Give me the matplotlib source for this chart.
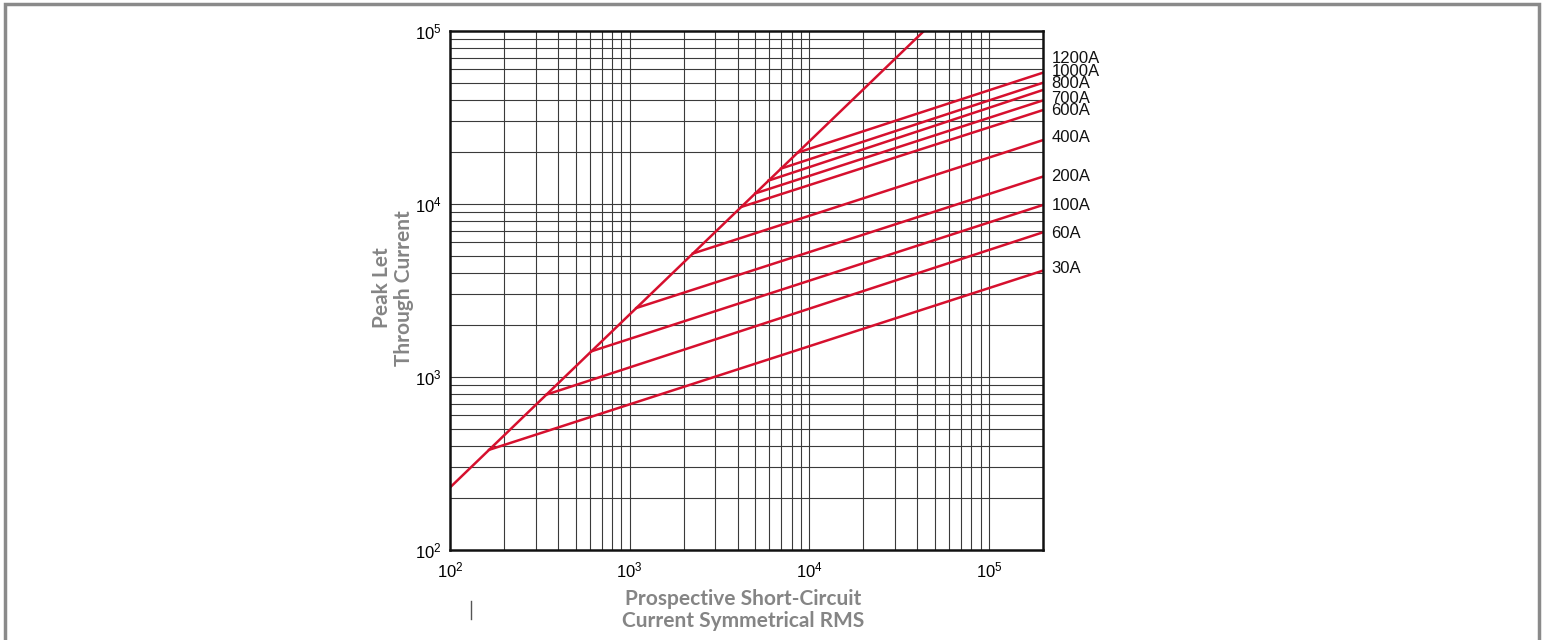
import matplotlib.pyplot as plt
import numpy as np
from matplotlib.lines import Line2D
from matplotlib.patches import Rectangle

# Fuse ratings and their peak let-through curves
ratings = ["30A", "60A", "100A", "200A", "400A", "600A", "700A", "800A", "1000A", "1200A"]
knee_current = [165, 344, 612, 1089, 2250, 4180, 5010, 5940, 6970, 8610]
end_peak = [4120, 6860, 9870, 14400, 23400, 34900, 39700, 45600, 50200, 57400]
label_y = [4210, 6710, 9780, 14380, 24100, 34900, 40800, 49900, 58200, 69500]

# Maximum peak line (2.3 x symmetrical RMS)
peak_factor = 2.3
x_min, x_max = 100, 2e5
y_min, y_max = 100, 1e5

RED = "#d6102e"
GRID = "#3a3a3a"
LABEL_GREY = "#858585"

plt.rcParams["mathtext.fontset"] = "custom"
plt.rcParams["mathtext.rm"] = "Liberation Sans"
plt.rcParams["mathtext.it"] = "Liberation Sans"

fig = plt.figure(figsize=(15.44, 6.4), dpi=100)
fig.patch.set_facecolor("white")

# grey frame around the picture
fig.add_artist(Rectangle((0.0035, -0.01), 0.9935, 1.0035, transform=fig.transFigure,
                         fill=False, edgecolor="#8a8a8a", linewidth=2.5))

ax = fig.add_axes([0.2915, 0.1406, 0.384, 0.811])
ax.set_xscale("log")
ax.set_yscale("log")
ax.set_xlim(x_min, x_max)
ax.set_ylim(y_min, y_max)

# grid on every 1..9 of each decade
for dec in [1e2, 1e3, 1e4, 1e5]:
    for m in range(1, 10):
        v = dec * m
        if x_min < v < x_max:
            ax.axvline(v, color=GRID, lw=0.8, zorder=1)
        if y_min < v < y_max:
            ax.axhline(v, color=GRID, lw=0.8, zorder=1)

# diagonal
xd = np.array([x_min, x_max])
ax.plot(xd, peak_factor * xd, color=RED, lw=1.8, zorder=3)

# fuse curves
for name, kx, ey, ly in zip(ratings, knee_current, end_peak, label_y):
    ax.plot([kx, x_max], [peak_factor * kx, ey], color=RED, lw=1.8, zorder=3)
    ax.text(1.014, np.log10(ly / y_min) / np.log10(y_max / y_min), name,
            transform=ax.transAxes, ha="left", va="center",
            fontsize=12, family="Liberation Sans", color="#111111")

for s in ax.spines.values():
    s.set_linewidth(1.8)
    s.set_color("#111111")
    s.set_zorder(5)

ax.set_xticks([1e2, 1e3, 1e4, 1e5])
ax.set_yticks([1e2, 1e3, 1e4, 1e5])
ax.set_xticklabels([r"$10^2$", r"$10^3$", r"$10^4$", r"$10^5$"])
ax.set_yticklabels([r"$10^2$", r"$10^3$", r"$10^4$", r"$10^5$"])
ax.xaxis.set_minor_locator(plt.NullLocator())
ax.yaxis.set_minor_locator(plt.NullLocator())
ax.tick_params(length=0, labelsize=12)
ax.tick_params(axis="y", pad=6)
ax.tick_params(axis="x", pad=8)

fig.text(0.2545, 0.55, "Peak Let\nThrough Current", rotation=90, ha="center", va="center",
         fontsize=15, fontweight="bold", family="Lato", color=LABEL_GREY, linespacing=1.1)
fig.text(0.481, 0.047, "Prospective Short-Circuit\nCurrent Symmetrical RMS", ha="center", va="center",
         fontsize=15, fontweight="bold", family="Lato", color=LABEL_GREY, linespacing=1.1)

# small stray tick mark below the axis
fig.add_artist(Line2D([0.305, 0.305], [0.033, 0.061], transform=fig.transFigure,
                      color="#555555", lw=1.0))

fig.savefig("out.png", dpi=100, facecolor="white")
